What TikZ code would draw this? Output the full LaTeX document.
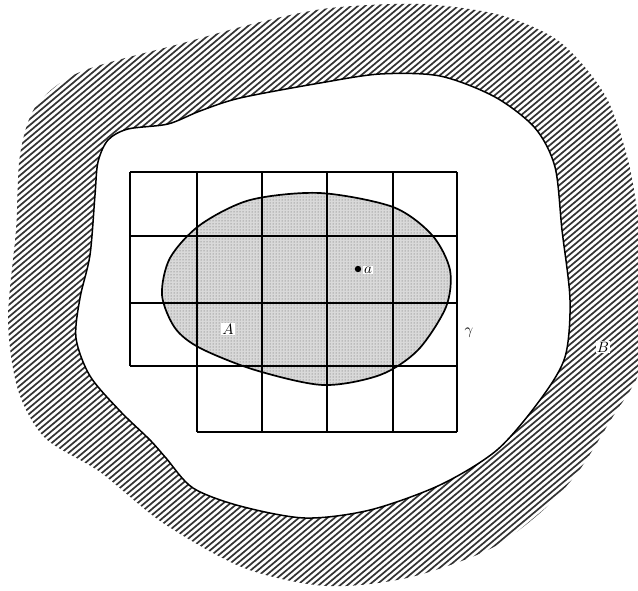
\documentclass[tikz,border=0pt]{standalone}
\usetikzlibrary{patterns}
\begin{document}
\begin{tikzpicture}[x=1pt,y=-1pt,
  hatchline/.style={draw=black!80,line width=1.7pt},
  gridline/.style={draw=black,line width=1.1pt},
  boundary/.style={draw=black,line width=1.5pt},
  lbl/.style={inner sep=1pt}]
\useasboundingbox (0,0) rectangle (638,590);
% hatched region B
\begin{scope}
\clip plot[smooth cycle] coordinates {(16,230) (20,155) (36,106) (80,72) (183,43) (260,22) (330,8) (420,4) (500,15) (560,42) (605,95) (628,160) (640,230) (648,300) (640,370) (612,418) (578,472) (540,513) (488,550) (407,578) (326,586) (244,568) (163,523) (100,472) (45,438) (18,390) (8,320)};
\foreach \c in {0,4.6,...,880}
  \draw[hatchline] ({\c*sin(40)-1000*cos(40)},{\c*cos(40)+1000*sin(40)}) -- ({\c*sin(40)+1000*cos(40)},{\c*cos(40)-1000*sin(40)});
\end{scope}
% inner white region with boundary
\path[fill=white,boundary] plot[smooth cycle] coordinates {(95,195) (98,162) (108,140) (128,129) (168,124) (200,111) (240,98) (320,83) (380,74) (440,76) (495,97) (535,128) (555,167) (562,230) (570,300) (565,357) (540,400) (497,450) (440,485) (370,510) (305,518) (240,506) (193,488) (166,458) (150,440) (120,411) (90,376) (76,338) (80,298) (90,255)};
% stippled set A
\def\blobA{plot[smooth cycle] coordinates {(162,295) (170,258) (200,225) (250,200) (320,193) (393,207) (432,235) (450,270) (446,307) (418,350) (380,375) (323,385) (255,370) (200,348) (175,328)}}
\fill[black!15] \blobA;
\fill[pattern=dots,pattern color=black!65] \blobA;
% grid
\foreach \y in {172,236,303,366} \draw[gridline] (130,\y) -- (457,\y);
\draw[gridline] (197,432) -- (457,432);
\draw[gridline] (130,172) -- (130,366);
\foreach \x in {197,262,327,393,457} \draw[gridline] (\x,172) -- (\x,432);
% boundary of A
\draw[boundary,line width=1.7pt] \blobA;
% labels
\fill (358,269) circle (3.2);
\node[lbl,fill=white,anchor=west] (la) at (363,270) {\scalebox{1.5}{$a$}};
\node[lbl,fill=white] (lA) at (228,329) {\scalebox{1.5}{$A$}};
\node[lbl] (lg) at (469,333) {\scalebox{1.5}{$\gamma$}};
\node[lbl,fill=white] (lB) at (603,347) {\scalebox{1.5}{$B$}};
\end{tikzpicture}
\end{document}
